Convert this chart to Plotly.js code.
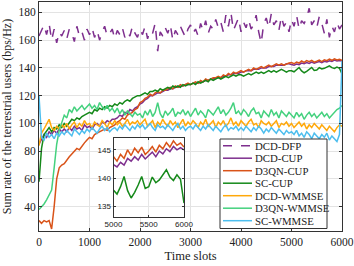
<!DOCTYPE html>
<html>
<head>
<meta charset="utf-8">
<script src="https://cdn.plot.ly/plotly-3.0.1.min.js"></script>
<style>html,body{margin:0;padding:0;background:#fff}#chart{width:354px;height:266px}</style>
</head>
<body>
<div id="chart"></div>
<script>
const timeSlots = [0,50,100,150,200,250,300,350,400,450,
500,550,600,650,700,750,800,850,900,950,
1000,1050,1100,1150,1200,1250,1300,1350,1400,1450,
1500,1550,1600,1650,1700,1750,1800,1850,1900,1950,
2000,2050,2100,2150,2200,2250,2300,2350,2400,2450,
2500,2550,2600,2650,2700,2750,2800,2850,2900,2950,
3000,3050,3100,3150,3200,3250,3300,3350,3400,3450,
3500,3550,3600,3650,3700,3750,3800,3850,3900,3950,
4000,4050,4100,4150,4200,4250,4300,4350,4400,4450,
4500,4550,4600,4650,4700,4750,4800,4850,4900,4950,
5000,5050,5100,5150,5200,5250,5300,5350,5400,5450,
5500,5550,5600,5650,5700,5750,5800,5850,5900,5950,
6000];

const dcdDfp = [163,167,171,164,172,160,168,158,166,163,
167,161,168,165,159,170,163,166,160,168,
164,169,162,167,160,166,170,163,165,168,
161,167,164,169,162,166,163,170,165,162,
168,164,170,161,167,165,172,152,166,163,
169,165,171,160,167,164,170,166,162,168,
171,165,168,163,172,167,174,165,170,168,
175,169,173,166,178,170,180,167,172,176,
166,173,169,175,168,171,178,166,158,172,
176,169,179,171,174,167,177,170,173,166,
175,170,178,168,174,172,176,183,171,174,
169,177,172,165,175,162,170,166,173,168,
171];

const dcdCup = [85,88,92,90,94,92,95,93,96,94,
96,94,97,95,98,96,97,95,99,97,
98,96,99,100,98,101,100,102,101,103,
103,104,106,105,108,107,110,109,111,112,
114,115,117,118,120,120,121,122,122,123,
124,124,125,125,126,126,127,127,128,128,
128,129,129,129,130,130,131,131,132,132,
133,133,133,134,134,135,135,136,136,136,
137,137,138,138,138,139,139,139,140,140,
140,141,141,141,142,142,142,142,143,143,
142.4,142,142.8,142.3,143.5,143,143.8,143.2,144.2,143.4,
144,144.6,143.8,144.8,144.3,145.2,144.7,145.6,145,145.4,
145];

const d3qnCup = [30,28,30,29,30,24,40,60,68,70,
71,74,76,78,80,82,81,84,86,88,
90,89,92,93,94,95,96,95,97,98,
99,101,102,104,103,106,107,108,110,111,
115,116,118,119,121,120,122,123,122,124,
124,125,126,125,127,126,128,127,128,129,
128,129,130,129,131,130,132,131,132,133,
133,134,133,135,134,136,135,137,136,137,
138,137,138,139,138,140,139,140,141,140,
141,142,141,142,143,142,143,142,143,143.5,
143.8,143,144.2,143.5,145,144,145.3,144.5,145.5,144.2,
144.8,145.6,144.6,145.8,145.2,146.3,145.5,146.6,145.8,146.2,
145.5];

const scCup = [58,82,92,95,97,94,97,96,99,97,
100,98,101,103,102,104,103,105,106,107,
108,107,110,109,111,110,112,111,113,112,
114,113,115,114,116,117,116,118,119,120,
120,121,122,121,123,123,124,123,125,124,
125,126,125,127,126,127,126,128,127,128,
128,129,128,130,129,130,131,130,132,131,
132,133,132,133,134,133,134,135,134,135,
135,134,135,136,135,136,137,136,137,136,
137,138,137,138,137,138,139,138,137,138,
137.9,137.2,138.5,140.3,137.8,136.5,137.5,138.8,140.3,138.2,
138.5,140.2,139.2,139.7,140.5,141.5,140.2,139.6,140.6,139.8,
135.6];

const dcdWmmse = [84,93,96,99,103,97,95,98,96,99,
97,100,96,99,101,97,100,98,102,99,
100,97,101,99,98,102,100,97,101,99,
102,99,101,98,100,103,99,101,100,102,
99,101,103,98,100,102,97,101,99,103,
100,98,102,99,101,97,100,103,98,101,
99,102,100,97,101,99,103,98,100,102,
97,101,99,102,98,100,104,99,101,98,
102,100,98,101,103,99,100,97,102,100,
99,101,98,100,102,97,100,99,101,98,
100,97,99,101,98,100,96,99,97,100,
98,96,99,97,95,98,96,94,97,99,
98];

const d3qnWmmse = [38,40,42,45,48,52,68,85,95,100,
106,104,110,108,112,109,111,113,110,112,
114,111,113,110,115,112,110,113,109,111,
108,111,107,110,106,109,107,105,108,106,
107,104,109,106,110,105,108,115,107,104,
109,106,108,111,105,108,107,110,106,109,
105,108,111,106,109,107,104,110,108,106,
109,112,107,110,106,108,111,115,107,109,
106,110,108,105,109,111,107,108,104,109,
107,105,110,106,108,104,109,107,105,108,
106,104,108,105,107,103,106,108,105,107,
104,106,108,105,107,104,106,108,110,111,
113];

const scWmmse = [120,90,88,93,90,92,89,93,91,94,
92,95,93,91,96,94,92,95,93,96,
94,97,95,93,96,98,95,97,94,96,
97,95,98,96,99,97,95,98,96,99,
97,99,96,98,100,97,95,99,97,98,
96,99,97,95,98,100,96,98,95,97,
98,96,99,97,95,98,96,99,97,95,
98,96,94,97,99,95,97,96,98,95,
97,95,98,96,94,97,95,98,96,93,
96,94,97,95,93,96,94,92,95,93,
94,92,95,91,93,90,94,92,89,93,
91,89,92,90,93,88,91,89,87,92,
145];

const seriesNames = ['DCD-DFP','DCD-CUP','D3QN-CUP','SC-CUP','DCD-WMMSE','D3QN-WMMSE','SC-WMMSE'];
const seriesData = [dcdDfp, dcdCup, d3qnCup, scCup, dcdWmmse, d3qnWmmse, scWmmse];
const seriesColors = ['#7E2F8E','#7E2F8E','#D95319','#15891A','#FFA80A','#44D17E','#4DBEEE'];
const seriesDash = ['dash','solid','solid','solid','solid','solid','solid'];
const insetSeries = [1,2,3];

const xTicks = [0,1000,2000,3000,4000,5000,6000];
const yTicks = [40,60,80,100,120,140,160,180];
const insetXTicks = [5000,5500,6000];
const insetYTicks = [135,140,145];

const serif = 'Liberation Serif, Times New Roman, serif';
const txt = '#222';

const traces = [];
seriesData.forEach((d, i) => {
  traces.push({x: timeSlots, y: d, type: 'scatter', mode: 'lines', name: seriesNames[i],
    line: {color: seriesColors[i], width: 1.5, dash: seriesDash[i]}, showlegend: false, xaxis: 'x', yaxis: 'y'});
});
insetSeries.forEach(i => {
  traces.push({x: timeSlots, y: seriesData[i], type: 'scatter', mode: 'lines', name: seriesNames[i],
    line: {color: seriesColors[i], width: 1.5}, showlegend: false, xaxis: 'x2', yaxis: 'y2'});
});

// Manual legend (paper coords)
const plotL = 39, plotR = 342, plotT = 2, plotB = 231;
const px2x = p => (p - plotL) / (plotR - plotL);
const px2y = p => (plotB - p) / (plotB - plotT);
const shapes = [{type: 'rect', xref: 'paper', yref: 'paper', x0: px2x(220), x1: px2x(327), y0: px2y(228.5), y1: px2y(139),
  line: {color: '#333', width: 1}, fillcolor: '#fff', layer: 'above'}];
const annotations = [];
seriesNames.forEach((n, i) => {
  const yy = px2y(145.7 + i * 12.5);
  shapes.push({type: 'line', xref: 'paper', yref: 'paper', x0: px2x(223), x1: px2x(252), y0: yy, y1: yy,
    line: {color: seriesColors[i], width: 1.5, dash: seriesDash[i]}, layer: 'above'});
  annotations.push({xref: 'paper', yref: 'paper', x: px2x(253), y: yy, text: n, showarrow: false,
    xanchor: 'left', yanchor: 'middle', font: {family: serif, size: 10.8, color: txt}});
});

const layout = {
  width: 354, height: 266,
  margin: {l: plotL, r: 354 - plotR, t: plotT, b: 266 - plotB},
  paper_bgcolor: '#fff', plot_bgcolor: '#fff',
  showlegend: false,
  font: {family: serif, size: 11.5, color: txt},
  xaxis: {range: [0, 6000], tickvals: xTicks, ticktext: xTicks.map(String), ticks: 'inside', ticklen: 3,
    tickcolor: '#333', showline: true, linecolor: '#333', linewidth: 1, mirror: 'ticks',
    showgrid: true, gridcolor: '#e3e3e3', zeroline: false,
    tickfont: {family: serif, size: 11.5, color: txt},
    title: {text: 'Time slots', font: {family: serif, size: 12.5, color: txt}, standoff: 4}},
  yaxis: {range: [22.5, 187.5], tickvals: yTicks, ticktext: yTicks.map(String), ticks: 'inside', ticklen: 3,
    tickcolor: '#333', showline: true, linecolor: '#333', linewidth: 1, mirror: 'ticks',
    showgrid: true, gridcolor: '#e3e3e3', zeroline: false,
    tickfont: {family: serif, size: 11.5, color: txt},
    title: {text: 'Sum rate of the terrestrial users (bps/Hz)', font: {family: serif, size: 12, color: txt}, standoff: 4}},
  xaxis2: {domain: [px2x(113.5), px2x(184)], anchor: 'y2', range: [5000, 6000], tickvals: insetXTicks,
    ticks: 'inside', ticklen: 2, tickcolor: '#333', showline: true, linecolor: '#333', mirror: 'ticks',
    showgrid: true, gridcolor: '#e6e6e6', zeroline: false,
    tickfont: {family: 'Liberation Sans, Arial, sans-serif', size: 8, color: txt}},
  yaxis2: {domain: [px2y(216.7), px2y(138)], anchor: 'x2', range: [133.2, 147.1], tickvals: insetYTicks,
    ticks: 'inside', ticklen: 2, tickcolor: '#333', showline: true, linecolor: '#333', mirror: 'ticks',
    showgrid: true, gridcolor: '#e6e6e6', zeroline: false,
    tickfont: {family: 'Liberation Sans, Arial, sans-serif', size: 8, color: txt}},
  shapes: shapes,
  annotations: annotations
};

Plotly.newPlot('chart', traces, layout, {staticPlot: true, displayModeBar: false});
</script>
</body>
</html>
